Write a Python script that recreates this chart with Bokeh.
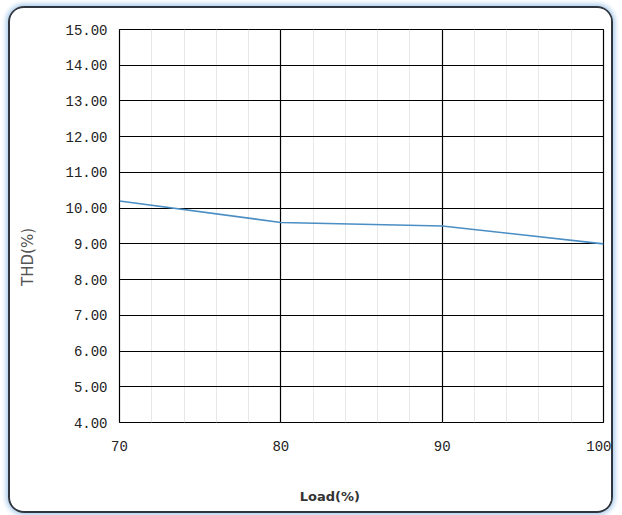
from bokeh.plotting import figure
from bokeh.models import FixedTicker, CustomJSTickFormatter, ColumnDataSource
from bokeh.embed import file_html
from bokeh.resources import INLINE

load = [70, 80, 90, 100]
thd = [10.2, 9.6, 9.5, 9.0]
x_ticks = [70, 80, 90, 100]
x_minor = [70, 72, 74, 76, 78, 80, 82, 84, 86, 88, 90, 92, 94, 96, 98, 100]
y_ticks = [4, 5, 6, 7, 8, 9, 10, 11, 12, 13, 14, 15]

NB = "\u00a0"
W, H = 605, 507
p = figure(width=W, height=H, output_backend="svg", toolbar_location=None,
           x_range=(70, 100), y_range=(4, 15),
           min_border_left=109, min_border_right=12, min_border_top=21, min_border_bottom=93)
p.styles = {"border": "2px solid #2f3640", "border-radius": "16px",
            "box-shadow": "0 0 5px 2px #a9cbec", "overflow": "hidden",
            "margin-left": "8px", "margin-top": "6px"}
p.background_fill_color = "white"
p.border_fill_color = "white"
p.outline_line_color = "black"
p.outline_line_width = 1.2

p.xaxis.ticker = FixedTicker(ticks=x_ticks, minor_ticks=x_minor)
p.yaxis.ticker = FixedTicker(ticks=y_ticks)
p.yaxis.formatter = CustomJSTickFormatter(code="return tick.toFixed(2);")

for ax in (p.xaxis, p.yaxis):
    ax.axis_line_color = None
    ax.major_tick_line_color = None
    ax.minor_tick_line_color = None
    ax.major_label_text_font = "Liberation Mono"
    ax.major_label_text_font_size = "14px"
    ax.major_label_text_color = "#222222"
    ax.axis_label_text_font = "DejaVu Sans"
    ax.axis_label_text_color = "#333333"
p.yaxis.major_label_standoff = 6
p.xaxis.major_label_standoff = 12

p.xaxis.axis_label = "Load(%)" + NB * 14
p.xaxis.axis_label_text_font_size = "13px"
p.xaxis.axis_label_text_font_style = "bold"
p.xaxis.axis_label_standoff = 35
p.yaxis.axis_label = "THD(%)" + NB * 13
p.yaxis.axis_label_text_font_size = "15px"
p.yaxis.axis_label_text_font_style = "normal"
p.yaxis.axis_label_text_color = "#555555"
p.yaxis.axis_label_standoff = 25

p.xgrid.grid_line_color = "black"
p.xgrid.grid_line_width = 1.2
p.ygrid.grid_line_color = "black"
p.ygrid.grid_line_width = 1.2
p.xgrid.minor_grid_line_color = "#d0d0d0"
p.xgrid.minor_grid_line_dash = "1 1"
p.xgrid.minor_grid_line_width = 1

src = ColumnDataSource(dict(x=load, y=thd))
p.line("x", "y", source=src, line_color="#4a8ec4", line_width=1.6)

open("out.html", "w").write(file_html(p, INLINE))
